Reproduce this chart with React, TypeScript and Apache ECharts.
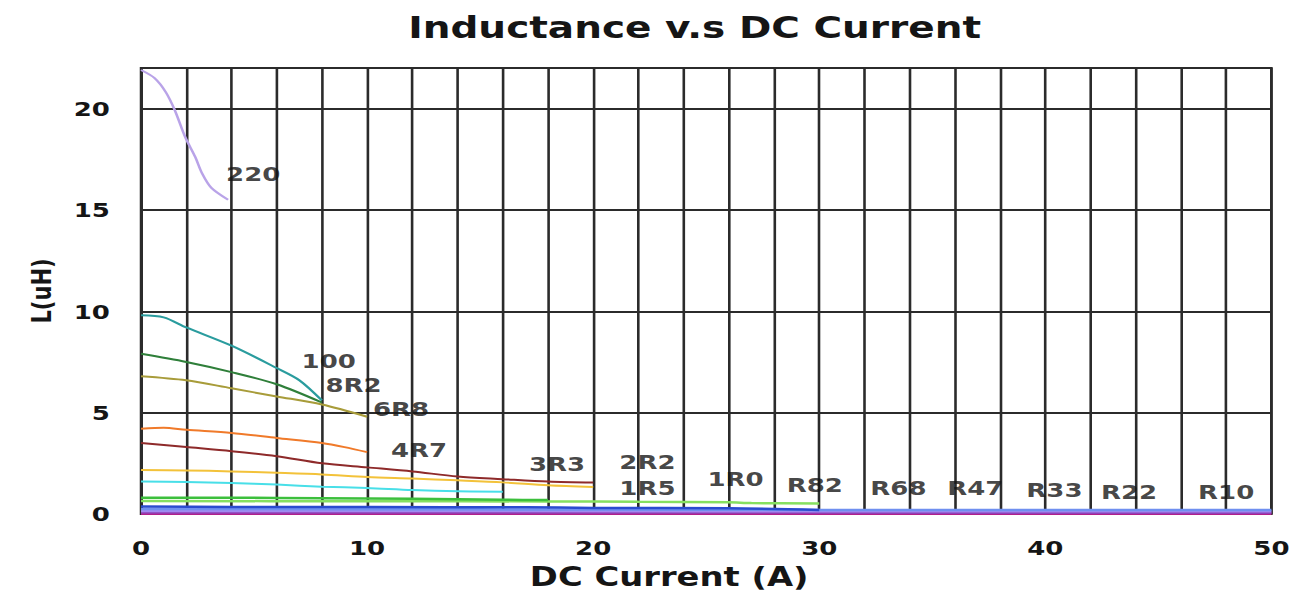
import React, { useEffect, useRef } from 'react';
import * as echarts from 'echarts';

// The reference picture is horizontally stretched; we draw at a narrower width and stretch it back.
const STRETCH = 1.3;
const PAGE_W = 1301;
const PAGE_H = 599;

const TITLE = 'Inductance v.s DC Current';
const X_NAME = 'DC Current (A)';
const Y_NAME = 'L(uH)';

// Curves: [current (A), inductance (uH)]
const s220: number[][] = [[0, 21.9], [0.6, 21.5], [1.1, 20.8], [1.5, 19.9], [1.95, 18.6], [2.4, 17.6], [2.7, 16.8], [3.1, 16.1], [3.85, 15.5]];
const s100: number[][] = [[0, 9.8], [1, 9.7], [2, 9.2], [4, 8.3], [6, 7.2], [7, 6.6], [8, 5.6]];
const s8R2: number[][] = [[0, 7.9], [2, 7.5], [4, 7.0], [6, 6.4], [8, 5.5]];
const s6R8: number[][] = [[0, 6.8], [2, 6.6], [4, 6.2], [6, 5.8], [8, 5.4], [10, 4.8]];
const s4R7: number[][] = [[0, 4.2], [1, 4.25], [2, 4.15], [4, 4.0], [6, 3.75], [8, 3.5], [9, 3.3], [10, 3.05]];
const s3R3: number[][] = [[0, 3.5], [2, 3.3], [4, 3.1], [6, 2.85], [8, 2.5], [10, 2.3], [12, 2.1], [14, 1.85], [16, 1.72], [18, 1.6], [20, 1.55]];
const s2R2: number[][] = [[0, 2.17], [2, 2.15], [4, 2.1], [6, 2.03], [8, 1.95], [10, 1.83], [12, 1.75], [14, 1.66], [16, 1.56], [18, 1.42], [20, 1.33]];
const s1R5: number[][] = [[0, 1.6], [2, 1.58], [4, 1.53], [6, 1.45], [8, 1.35], [10, 1.28], [12, 1.18], [14, 1.12], [16, 1.1]];
const s1R0: number[][] = [[0, 0.8], [4, 0.8], [8, 0.78], [12, 0.75], [16, 0.7], [18, 0.69]];
const sR82: number[][] = [[0, 0.64], [10, 0.63], [18, 0.62], [22, 0.6], [26, 0.58], [27, 0.54], [30, 0.52]];
const sR68: number[][] = [[0, 0.37], [4, 0.35], [10, 0.34], [17, 0.33], [20, 0.3], [26, 0.28], [30, 0.2]];
const sR47: number[][] = [[0, 0.25], [10, 0.24], [20, 0.22], [30, 0.2], [40, 0.2], [50, 0.2]];
const sR33: number[][] = [[0, 0.15], [25, 0.14], [50, 0.14]];
const sR22: number[][] = [[0, 0.07], [25, 0.07], [50, 0.06]];
const sR10: number[][] = [[0, 0.02], [25, 0.02], [50, 0.02]];

const curveNames = ['220', '100', '8R2', '6R8', '4R7', '3R3', '2R2', '1R5', '1R0', 'R82', 'R68', 'R47', 'R33', 'R22', 'R10'];
const curveData = [s220, s100, s8R2, s6R8, s4R7, s3R3, s2R2, s1R5, s1R0, sR82, sR68, sR47, sR33, sR22, sR10];
const curveColors = ['#b9a3e8', '#2a9c9e', '#2f7f3a', '#a89c3a', '#f07a2a', '#8e2a2a', '#f3c23a', '#48dfe8', '#3cbf3c', '#86e060', '#2a4bd0', '#6f8ff0', '#a08af0', '#9040b8', '#b0208a'];
const curveWidths = [2, 2, 2, 2, 2, 2, 2, 2, 2.5, 2.5, 2.5, 2.5, 2.5, 2.5, 3];

// Curve labels placed in data coordinates
const labelText = ['220', '100', '8R2', '6R8', '4R7', '3R3', '2R2', '1R5', '1R0', 'R82', 'R68', 'R47', 'R33', 'R22', 'R10'];
const labelX = [4.96, 8.3, 9.4, 11.5, 12.3, 18.4, 22.4, 22.4, 26.3, 29.8, 33.5, 36.9, 40.4, 43.7, 48.0];
const labelY = [16.8, 7.55, 6.4, 5.2, 3.16, 2.47, 2.58, 1.3, 1.73, 1.43, 1.28, 1.28, 1.19, 1.09, 1.09];

const xMin = 0;
const xMax = 50;
const xStep = 2;
const yMin = 0;
const yMax = 22;
const yStep = 5;

const FONT = 'DejaVu Sans';
const TEXT = '#151515';
const GRID = '#2b2b2b';

export default function App() {
  const ref = useRef<HTMLDivElement>(null);

  useEffect(() => {
    const chart = echarts.init(ref.current!, null, { renderer: 'svg' });
    const lineSeries = curveData.map((d, i) => ({
      type: 'line',
      name: curveNames[i],
      data: d,
      smooth: 0.3,
      showSymbol: false,
      symbol: 'none',
      lineStyle: { color: curveColors[i], width: curveWidths[i] },
      itemStyle: { color: curveColors[i] },
      z: 3 + (curveData.length - i) * 0.01,
    }));
    const labelSeries = {
      type: 'scatter',
      name: 'labels',
      symbolSize: 0,
      data: labelText.map((t, i) => ({ name: t, value: [labelX[i], labelY[i]] })),
      label: {
        show: true,
        position: 'inside',
        formatter: (p: any) => p.name,
        fontFamily: FONT,
        fontWeight: 'bold',
        fontSize: 20,
        lineHeight: 20,
        color: TEXT,
      },
      z: 10,
    };
    chart.setOption({
      animation: false,
      backgroundColor: '#ffffff',
      title: {
        text: TITLE,
        left: 309,
        top: 8,
        textStyle: { fontFamily: FONT, fontWeight: 'bold', fontSize: 30, color: TEXT },
      },
      grid: {
        left: 108.5,
        right: 23,
        top: 68,
        bottom: 85,
        show: true,
        borderColor: GRID,
        borderWidth: 2,
        containLabel: false,
      },
      xAxis: {
        type: 'value',
        min: xMin,
        max: xMax,
        interval: xStep,
        name: X_NAME,
        nameLocation: 'middle',
        nameGap: 50,
        nameTextStyle: { fontFamily: FONT, fontWeight: 'bold', fontSize: 26, color: TEXT, padding: [0, 57, 0, 0] },
        axisLine: { show: false },
        axisTick: { show: false },
        axisLabel: {
          margin: 24,
          fontFamily: FONT,
          fontWeight: 'bold',
          fontSize: 20,
          color: TEXT,
          formatter: (v: number) => (v % 10 === 0 ? String(v) : ''),
        },
        splitLine: { show: true, lineStyle: { color: GRID, width: 2 } },
      },
      yAxis: {
        type: 'value',
        min: yMin,
        max: yMax,
        interval: yStep,
        name: Y_NAME,
        nameLocation: 'middle',
        nameRotate: 90,
        nameGap: 66,
        nameTextStyle: { fontFamily: FONT, fontWeight: 'bold', fontSize: 21, color: TEXT },
        axisLine: { show: false },
        axisTick: { show: false },
        axisLabel: {
          margin: 24,
          fontFamily: FONT,
          fontWeight: 'bold',
          fontSize: 20,
          color: TEXT,
          formatter: (v: number) => (v % yStep === 0 && v <= 20 ? String(v) : ''),
        },
        splitLine: { show: true, lineStyle: { color: GRID, width: 2 } },
      },
      series: [...lineSeries, labelSeries],
    });
    return () => chart.dispose();
  }, []);

  return (
    <div style={{ position: 'fixed', left: 0, top: 0, width: PAGE_W, height: PAGE_H, overflow: 'hidden', background: '#fff' }}>
      <div
        ref={ref}
        style={{ width: PAGE_W / STRETCH, height: PAGE_H, transform: `scaleX(${STRETCH})`, transformOrigin: '0 0' }}
      />
    </div>
  );
}
